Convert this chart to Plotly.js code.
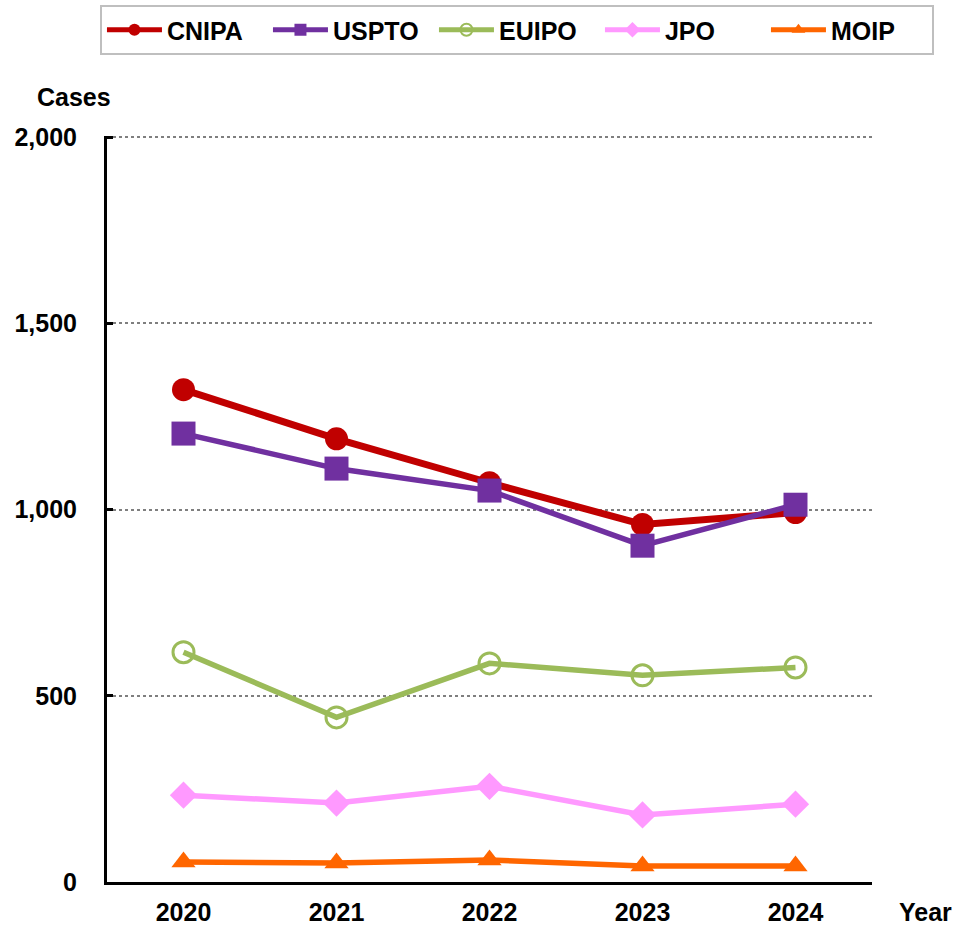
<!DOCTYPE html>
<html>
<head>
<meta charset="utf-8">
<script src="https://cdn.plot.ly/plotly-3.0.1.min.js"></script>
<style>html,body{margin:0;padding:0;background:#fff;}#chart{width:957px;height:926px;}</style>
</head>
<body>
<div id="chart"></div>
<script>
const years = ['2020', '2021', '2022', '2023', '2024'];
const cnipa = [1322, 1190, 1072, 960, 992];
const uspto = [1204, 1110, 1051, 903, 1013];
const euipo = [617, 442, 587, 555, 576];
const jpo = [233, 212, 257, 180, 209];
const moip = [54, 51, 59, 43, 43];
const yTicks = [0, 500, 1000, 1500, 2000];

const FONT = 'Liberation Sans, Arial, sans-serif';
const FS = 25;

function tr(name, y, color, symbol, size, lw, mline) {
  return {
    x: years, y: y, name: name, type: 'scatter', mode: 'lines+markers',
    line: {color: color, width: lw},
    marker: {symbol: symbol, size: size, color: color, line: mline || {width: 0}},
    cliponaxis: false
  };
}

const data = [
  tr('CNIPA', cnipa, '#C00000', 'circle', 23, 7),
  tr('USPTO', uspto, '#7030A0', 'square', 24, 5.5),
  tr('EUIPO', euipo, '#9BBB59', 'circle-open', 21, 5.5, {width: 3, color: '#9BBB59'}),
  tr('JPO', jpo, '#FF99FF', 'diamond', 21, 5.5),
  tr('MOIP', moip, '#FF6600', 'triangle-up', 21, 5.5)
];

const layout = {
  width: 957, height: 926, autosize: false,
  paper_bgcolor: '#fff', plot_bgcolor: '#fff',
  margin: {l: 107, r: 85, t: 136, b: 44, autoexpand: false},
  font: {family: FONT, size: FS, color: '#000'},
  showlegend: true,
  legend: {
    orientation: 'h', xref: 'paper', yref: 'paper',
    x: -0.0092, xanchor: 'left', y: 1.1756, yanchor: 'top',
    bordercolor: '#BFBFBF', borderwidth: 2, bgcolor: '#fff',
    font: {family: FONT, size: FS, color: '#000', weight: 'bold'},
    itemsizing: 'constant', itemwidth: 55, traceorder: 'normal',
    entrywidth: 96, entrywidthmode: 'pixels'
  },
  xaxis: {
    type: 'category', range: [-0.5, 4.5],
    showline: true, linecolor: '#000', linewidth: 3,
    showgrid: false, ticks: '', zeroline: false,
    tickfont: {family: FONT, size: FS, color: '#000', weight: 'bold'},
    ticklabelstandoff: 6, fixedrange: true
  },
  yaxis: {
    range: [0, 2003], tickvals: yTicks, tickformat: ',d',
    showline: true, linecolor: '#000', linewidth: 3,
    showgrid: true, gridcolor: '#7F7F7F', gridwidth: 2, griddash: 'dot',
    ticks: 'inside', ticklen: 6, tickwidth: 3, tickcolor: '#000',
    zeroline: false,
    tickfont: {family: FONT, size: FS, color: '#000', weight: 'bold'},
    ticklabelstandoff: 22, fixedrange: true
  },
  annotations: [
    {text: 'Cases', xref: 'paper', yref: 'paper', x: -0.043, y: 1.052, xanchor: 'center', yanchor: 'middle',
     showarrow: false, font: {family: FONT, size: FS, color: '#000', weight: 'bold'}},
    {text: 'Year', xref: 'paper', yref: 'paper', x: 1.07, y: -0.04, xanchor: 'center', yanchor: 'middle',
     showarrow: false, font: {family: FONT, size: FS, color: '#000', weight: 'bold'}}
  ]
};

Plotly.newPlot('chart', data, layout, {displayModeBar: false, staticPlot: true});
</script>
</body>
</html>
